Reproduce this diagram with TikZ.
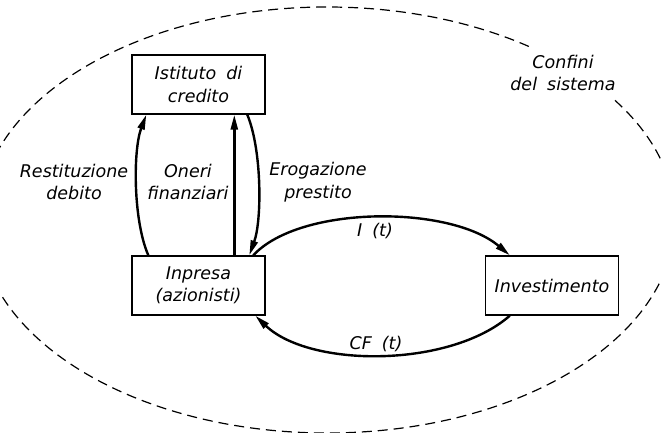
\documentclass[tikz,border=0pt]{standalone}
\usepackage{fontspec}
\newfontfamily\cadfont{DejaVu Sans}[WordSpace=1.8]
\usetikzlibrary{arrows.meta}
\newcommand\cadtext{\cadfont\itshape\fontsize{17.5}{22.5}\selectfont}
\begin{document}
\begin{tikzpicture}[x=1pt,y=-1pt,
  box/.style={draw,line width=1.4pt,minimum width=133pt,minimum height=59pt,inner sep=2pt,align=center,font=\cadtext},
  lab/.style={align=center,font=\cadtext,inner sep=0pt},
  flow/.style={line width=2.4pt,-{Triangle[length=15pt,width=7pt]}},
  border/.style={dash pattern=on 10pt off 6pt,line width=1.2pt}]
\useasboundingbox (0,0) rectangle (661,433);
\begin{scope}
\clip (0,0) rectangle (661,433);
\draw[border] (327,220) ellipse [x radius=348pt, y radius=213pt];
\end{scope}
% boxes
\node[box] (ist) at (198.5,84.5) {Istituto di\\credito};
\node[box] (inp) at (198.5,285.5) {Inpresa\\(azionisti)};
\node[box] (inv) at (552,285.5) {Investimento};
% labels
\node[lab] (rest) at (74,182) {Restituzione\\debito};
\node[lab] (oneri) at (188,182) {Oneri\\finanziari};
\node[lab] (erog) at (318,182) {Erogazione\\prestito};
\node[lab] (it) at (375,231) {I (t)};
\node[lab] (cf) at (376,344) {CF (t)};
\node[lab,fill=white,inner xsep=6pt,inner ysep=8pt] (conf) at (563,73) {Confini\\del sistema};
% connectors
\draw[flow] ([xshift=17pt]inp.north west) .. controls (133,220) and (133,150) .. ([xshift=15pt]ist.south west);
\draw[flow] ([xshift=103pt]inp.north west) -- ([xshift=103pt]ist.south west);
\draw[flow] ([xshift=116pt]ist.south west) .. controls (262,150) and (262,220) .. ([xshift=118pt]inp.north west);
\draw[flow] ([xshift=122pt]inp.north west) .. controls (300,205) and (450,205) .. ([xshift=25pt]inv.north west);
\draw[flow] ([xshift=25pt]inv.south west) .. controls (450,368) and (310,368) .. ([xshift=124pt]inp.south west);
\end{tikzpicture}
\end{document}
